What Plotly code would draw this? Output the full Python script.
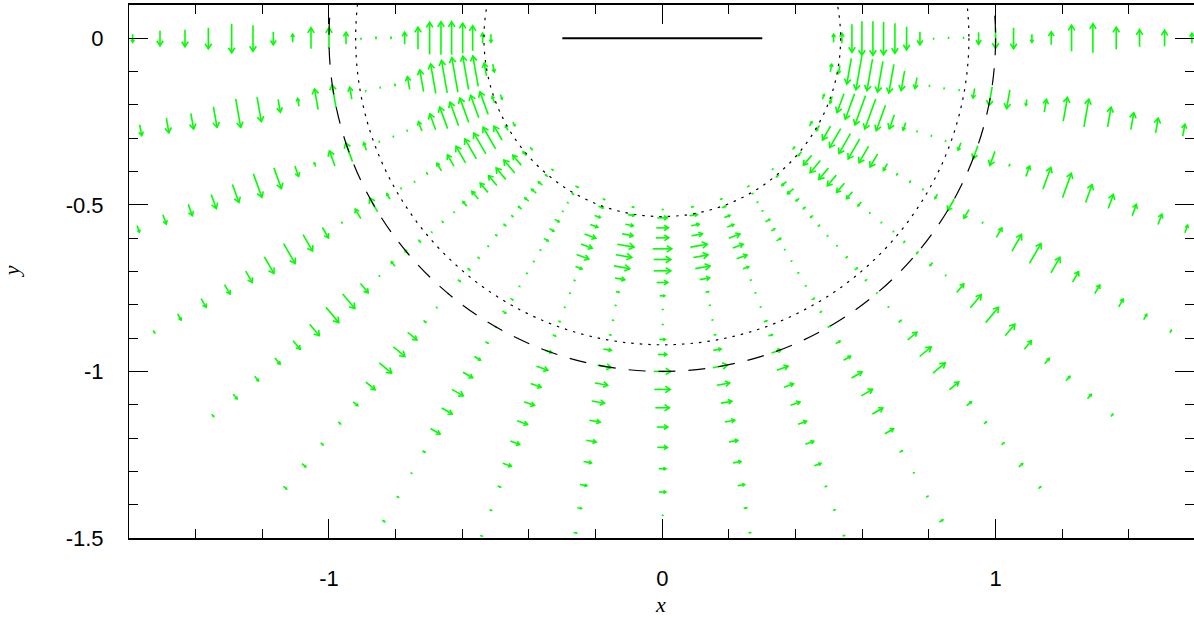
import numpy as np
import plotly.graph_objects as go

# ---------------- data ----------------
# polar sampling grid of the field
angles_deg = [180, 190, 200, 210, 220, 230, 240, 250, 260, 270,
              280, 290, 300, 310, 320, 330, 340, 350, 360]
radii = [0.514, 0.539, 0.569, 0.599, 0.632, 0.664, 0.698, 0.733, 0.773, 0.814,
         0.859, 0.904, 0.949, 1.000, 1.054, 1.109, 1.167, 1.228, 1.292, 1.362,
         1.432, 1.507, 1.589, 1.673, 1.761]

# azimuthal (counter-clockwise positive) field value at each radius, one list per angle
N = None
field_180 = [8, -10, -25, -30, -33, -33, -32, -22, -12, -2, -2, 0, -12, -21, -21, -8, 13, 26, 29, 21, 17, 15, 8, N, N]
field_190 = [8, -13, -31, -34, -35, -33, -30, -22, -13, -2, -1, 0, -12, -23, -21, -8, 13, 25, 29, 21, 16, 15, 11, N, N]
field_200 = [5, -7, -24, -24, -26, -25, -23, -17, -10, -1, 0, 1, -8, -20, -16, -4, 11, 22, 25, 19, 15, 12, 10, 7, N]
field_210 = [4, -5, -16, -25, -24, -23, -19, -13, -9, -2, 0, -1, -6, -16, -11, -1, 12, 19, 23, 19, 13, 11, 10, 7, 3]
field_220 = [3, -5, -13, -17, -15, -13, -12, -10, -6, -1, -2, 0, -3, -6, -6, 1, 12, 19, 20, 15, 11, 8, 6, 6, 3]
field_230 = [2, -3, -5, -6, -5, -4, -2, -3, -2, 0, 2, 3, 3, 1, 1, 3, 12, 15, 16, 12, 6, 3, 3, 5, 4]
field_240 = [3, 2, 1, 1, 5, 5, 5, 1, 0, 0, 1, 3, 4, 2, 3, 7, 11, 13, 12, 11, 3, 0, 2, 3, N]
field_250 = [2, 5, 6, 8, 12, 12, 13, 7, 1, 1, 1, 2, 3, 7, 12, 11, 11, 11, 10, 9, 3, 2, 2, N, N]
field_260 = [2, 6, 8, 11, 17, 16, 16, 10, 3, 1, 1, 2, 8, 14, 13, 13, 11, 10, 8, 7, 4, 3, N, N, N]
field_270 = [1, 10, 12, 13, 19, 17, 17, 11, 5, 1, 1, 6, 9, 17, 16, 14, 11, 10, 7, 7, 1, N, N, N, N]
field_280 = [2, 8, 8, 11, 17, 15, 15, 10, 3, 0, 1, 2, 8, 15, 13, 11, 10, 9, 8, 7, 3, 2, N, N, N]
field_290 = [2, 4, 6, 7, 12, 11, 11, 6, 1, 0, 1, 3, 4, 10, 12, 10, 10, 9, 9, 7, 2, 2, 2, N, N]
field_300 = [2, 1, 1, 1, 5, 4, 5, 1, 0, 0, 1, 3, 2, 3, 5, 8, 12, 13, 12, 10, 3, 0, 2, 4, N]
field_310 = [1, -3, -6, -8, -4, -3, -3, -2, -1, 0, 2, 3, 2, 1, 1, 3, 12, 15, 16, 12, 6, 3, 3, 5, 3]
field_320 = [3, -5, -13, -16, -15, -14, -12, -9, -5, -1, -1, 0, -2, -3, -4, 1, 11, 17, 20, 15, 11, 7, 6, 6, 3]
field_330 = [5, -6, -16, -22, -23, -23, -19, -15, -8, -2, -2, -1, -5, -13, -10, 0, 11, 19, 23, 18, 12, 10, 9, 6, 3]
field_340 = [5, -7, -20, -27, -31, -32, -27, -15, -8, -1, 0, 0, -8, -14, -15, -2, 11, 23, 26, 19, 15, 12, 11, 8, N]
field_350 = [8, -8, -26, -34, -32, -31, -29, -20, -11, -1, -1, 0, -10, -19, -19, -6, 13, 24, 28, 20, 17, 15, 12, N, N]
field_360 = [8, 10, -28, -34, -34, -33, -30, -23, -13, -1, 1, 0, -12, -20, -21, -8, 13, 26, 29, 22, 17, 16, 10, N, N]

field_rows = [field_180, field_190, field_200, field_210, field_220, field_230, field_240,
              field_250, field_260, field_270, field_280, field_290, field_300, field_310,
              field_320, field_330, field_340, field_350, field_360]

# reference curves
circle_dashed_r = [1.0]
circle_dotted_r = [0.535, 0.92]
segment_x = [-0.3, 0.3]
segment_y = [0.0, 0.0]

xtick_vals = [-1, 0, 1]
xtick_text = ['-1', '0', '1']
ytick_vals = [0, -0.5, -1, -1.5]
ytick_text = ['0', '-0.5', '-1', '-1.5']

# ---------------- arrow geometry (quiver) ----------------
SCALE = 1.0 / 333.3          # field unit -> data unit
HEAD_MAX = 6.0 * SCALE
HEAD_FRAC = 0.4
HEAD_ANG = np.deg2rad(33)
MIN_LEN = 1.2

def rot(v, a):
    c, s = np.cos(a), np.sin(a)
    return np.array([c * v[0] - s * v[1], s * v[0] + c * v[1]])

xs, ys = [], []
for ang, vals in zip(angles_deg, field_rows):
    th = np.deg2rad(ang)
    t = np.array([-np.sin(th), np.cos(th)])
    for r, v in zip(radii, vals):
        if v is None:
            continue
        mag = max(abs(v), MIN_LEN)
        sgn = 1.0 if v >= 0 else -1.0
        L = mag * SCALE
        d = sgn * t
        c = np.array([r * np.cos(th), r * np.sin(th)])
        tail = c - d * L / 2
        tip = c + d * L / 2
        h = min(HEAD_FRAC * L, HEAD_MAX)
        w1 = tip + h * rot(-d, HEAD_ANG)
        w2 = tip + h * rot(-d, -HEAD_ANG)
        xs += [tail[0], tip[0], None, w1[0], tip[0], w2[0], None]
        ys += [tail[1], tip[1], None, w1[1], tip[1], w2[1], None]

fig = go.Figure()
fig.add_trace(go.Scatter(x=xs, y=ys, mode='lines',
                         line=dict(color='#00ff00', width=1.6),
                         hoverinfo='skip', showlegend=False))
fig.add_trace(go.Scatter(x=segment_x, y=segment_y, mode='lines',
                         line=dict(color='black', width=2),
                         hoverinfo='skip', showlegend=False))

for r in circle_dashed_r:
    fig.add_shape(type='circle', xref='x', yref='y', x0=-r, y0=-r, x1=r, y1=r,
                  line=dict(color='black', width=1.2, dash='17px,13px'), layer='above')
for r in circle_dotted_r:
    fig.add_shape(type='circle', xref='x', yref='y', x0=-r, y0=-r, x1=r, y1=r,
                  line=dict(color='black', width=1.2, dash='2.5px,6px'), layer='above')

W, H = 1194, 618
ML, MR, MT, MB = 129, 0, 5, 80
plot_w = W - ML - MR
xmin = -1.6
xmax = xmin + plot_w / 333.3

tickfont = dict(family='Liberation Sans, Arial, sans-serif', size=22, color='black')
fig.update_layout(
    width=W, height=H,
    margin=dict(l=ML, r=MR, t=MT, b=MB, pad=0),
    plot_bgcolor='white', paper_bgcolor='white',
    showlegend=False,
)
fig.update_xaxes(
    range=[xmin, xmax], showgrid=False, zeroline=False,
    showline=True, linecolor='black', linewidth=1.5, mirror='allticks',
    ticks='inside', ticklen=19, tickwidth=1, tickcolor='black',
    tickmode='array', tickvals=xtick_vals, ticktext=xtick_text,
    tickfont=tickfont, ticklabelstandoff=20,
    minor=dict(ticks='inside', ticklen=9, tickwidth=1, tickcolor='black',
               tickmode='linear', tick0=0, dtick=0.2, showgrid=False),
)
fig.update_yaxes(
    range=[-1.5, 0.1], showgrid=False, zeroline=False,
    showline=True, linecolor='black', linewidth=1, mirror='allticks',
    ticks='inside', ticklen=19, tickwidth=1, tickcolor='black',
    tickmode='array', tickvals=ytick_vals, ticktext=ytick_text,
    tickfont=tickfont, ticklabelstandoff=20,
    minor=dict(ticks='inside', ticklen=9, tickwidth=1, tickcolor='black',
               tickmode='linear', tick0=0, dtick=0.1, showgrid=False),
)
titlefont = dict(family='Liberation Serif, Times New Roman, serif', size=22, color='black')
fig.add_annotation(text='<i>x</i>', xref='paper', yref='paper', x=0.4986, y=-0.125,
                   xanchor='center', yanchor='middle', showarrow=False, font=titlefont)
fig.add_annotation(text='<i>y</i>', xref='paper', yref='paper', x=-0.11, y=0.5,
                   xanchor='center', yanchor='middle', showarrow=False, font=titlefont,
                   textangle=-90)

fig.write_html('out.html')
